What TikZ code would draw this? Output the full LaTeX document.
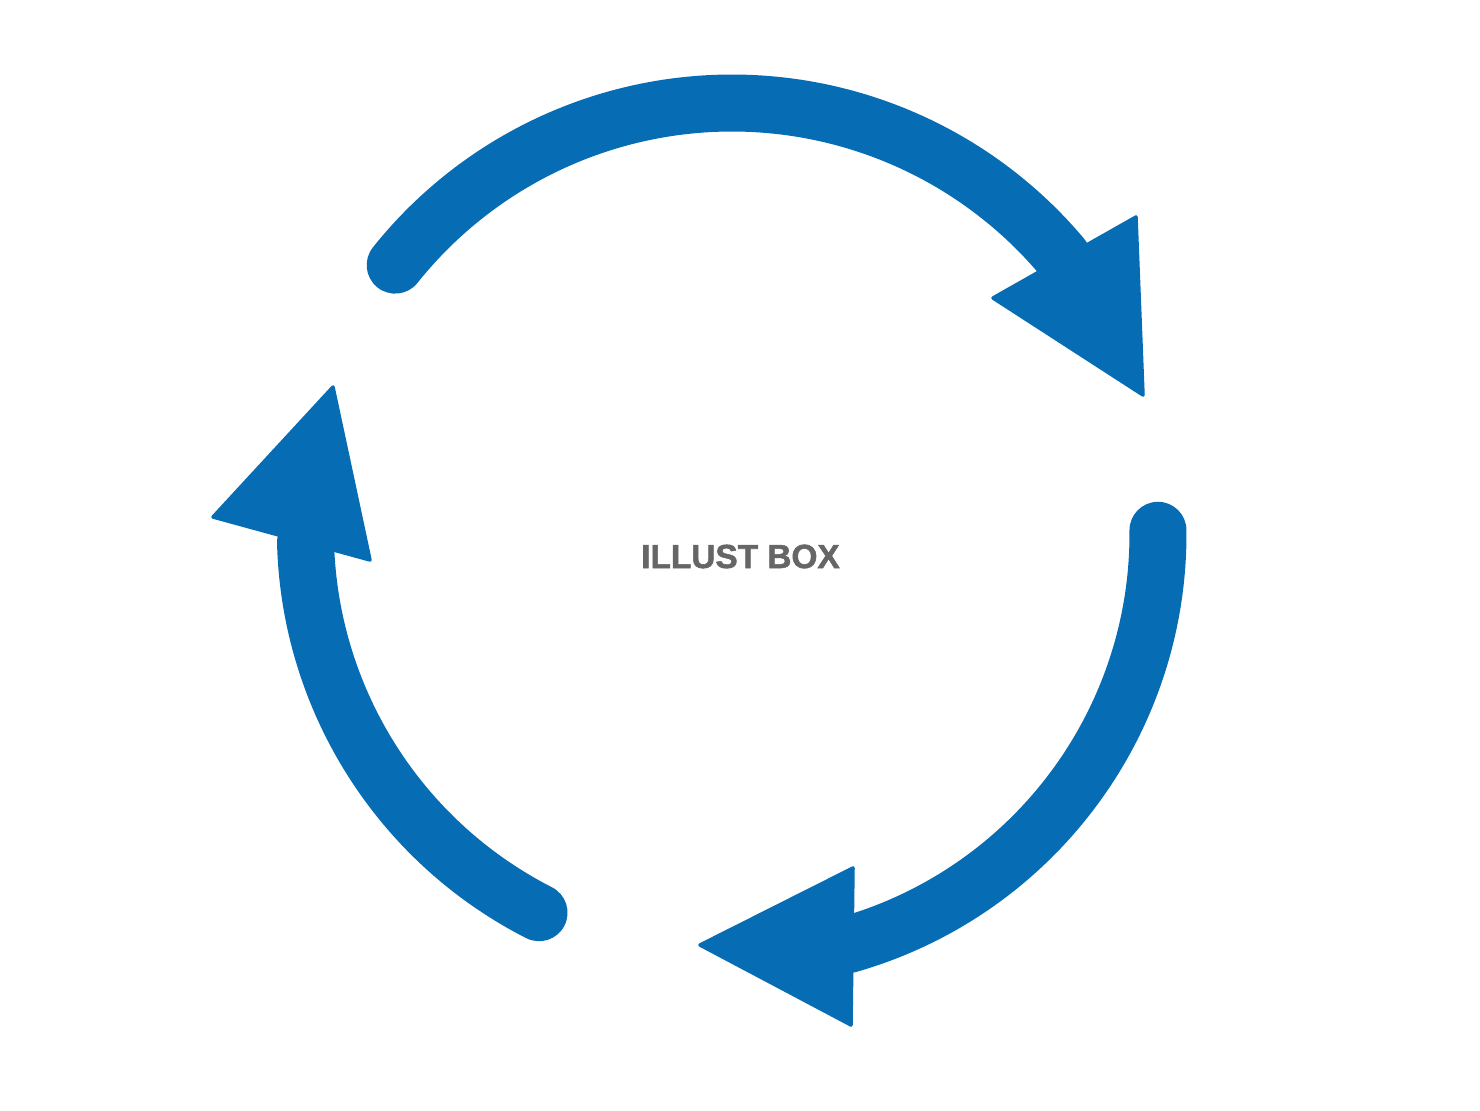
\documentclass[tikz,border=0pt]{standalone}
\usepackage{fontspec}
\setmainfont{Liberation Sans}
\newfontfamily\boxfont[FakeBold=1.6]{Liberation Sans Bold}
\usetikzlibrary{calc}
\definecolor{cycleblue}{RGB}{6,109,181}
\definecolor{boxgray}{RGB}{102,102,102}
\tikzset{
  cyclearc/.style={draw=cycleblue, line width=0.57cm, line cap=round},
  cyclehead/.style={fill=cycleblue, draw=cycleblue, line width=1pt, line join=round}
}

\begin{document}
\begin{tikzpicture}
    \useasboundingbox (0,0) rectangle (14.8,11.1);
    \coordinate (O) at (7.32,5.76);

    % top arrow
    \draw[cyclearc] (O) ++ (141.4:4.31) arc (141.4:40:4.31);
    \filldraw[cyclehead] (9.93,8.12) -- (11.36,8.93) -- (11.43,7.15) -- cycle;

    % right arrow
    \draw[cyclearc] (O) ++ (0.5:4.26) arc (0.5:-74:4.27);
    \filldraw[cyclehead] (8.53,2.42) -- (8.51,0.85) -- (7.00,1.65) -- cycle;

    % left arrow
    \draw[cyclearc] (O) ++ (243:4.25) arc (243:181.5:4.28);
    \filldraw[cyclehead] (2.13,5.93) -- (3.33,7.23) -- (3.70,5.50) -- cycle;

    \node[anchor=base, inner sep=0pt, text=boxgray, font=\boxfont\fontsize{9.5}{11}\selectfont] (title) at (7.405,5.42) {ILLUST BOX};
\end{tikzpicture}
\end{document}
